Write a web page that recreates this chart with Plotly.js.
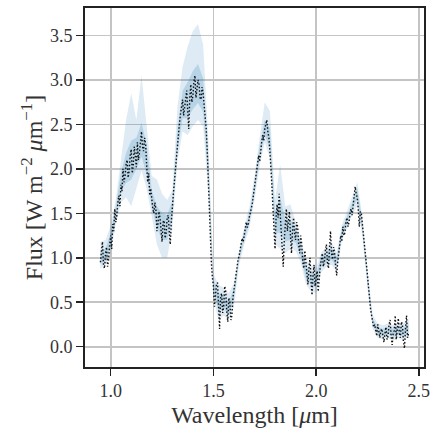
<!DOCTYPE html>
<html>
<head>
<meta charset="utf-8">
<script src="https://cdn.plot.ly/plotly-3.0.1.min.js"></script>
<style>html,body{margin:0;padding:0;background:#fff;}#chart{width:433px;height:436px;}</style>
</head>
<body>
<div id="chart"></div>
<script>
// Observed spectrum (wavelength in micron, flux)
const wavelength = [0.950,0.955,0.960,0.965,0.970,0.975,0.980,0.985,0.990,0.995,
1.000,1.005,1.010,1.015,1.020,1.025,1.030,1.035,1.040,1.045,
1.050,1.055,1.060,1.065,1.070,1.075,1.080,1.085,1.090,1.095,
1.100,1.105,1.110,1.115,1.120,1.125,1.130,1.135,1.140,1.145,
1.150,1.155,1.160,1.165,1.170,1.175,1.180,1.185,1.190,1.195,
1.200,1.205,1.210,1.215,1.220,1.225,1.230,1.235,1.240,1.245,
1.250,1.255,1.260,1.265,1.270,1.275,1.280,1.285,1.290,1.295,
1.300,1.305,1.310,1.315,1.320,1.325,1.330,1.335,1.340,1.345,
1.350,1.355,1.360,1.365,1.370,1.375,1.380,1.385,1.390,1.395,
1.400,1.405,1.410,1.415,1.420,1.425,1.430,1.435,1.440,1.445,
1.450,1.455,1.460,1.465,1.470,1.475,1.480,1.485,1.490,1.495,
1.500,1.505,1.510,1.515,1.520,1.525,1.530,1.535,1.540,1.545,
1.550,1.555,1.560,1.565,1.570,1.575,1.580,1.585,1.590,1.595,
1.600,1.605,1.610,1.615,1.620,1.625,1.630,1.635,1.640,1.645,
1.650,1.655,1.660,1.665,1.670,1.675,1.680,1.685,1.690,1.695,
1.700,1.705,1.710,1.715,1.720,1.725,1.730,1.735,1.740,1.745,
1.750,1.755,1.760,1.765,1.770,1.775,1.780,1.785,1.790,1.795,
1.800,1.805,1.810,1.815,1.820,1.825,1.830,1.835,1.840,1.845,
1.850,1.855,1.860,1.865,1.870,1.875,1.880,1.885,1.890,1.895,
1.900,1.905,1.910,1.915,1.920,1.925,1.930,1.935,1.940,1.945,
1.950,1.955,1.960,1.965,1.970,1.975,1.980,1.985,1.990,1.995,
2.000,2.005,2.010,2.015,2.020,2.025,2.030,2.035,2.040,2.045,
2.050,2.055,2.060,2.065,2.070,2.075,2.080,2.085,2.090,2.095,
2.100,2.105,2.110,2.115,2.120,2.125,2.130,2.135,2.140,2.145,
2.150,2.155,2.160,2.165,2.170,2.175,2.180,2.185,2.190,2.195,
2.200,2.205,2.210,2.215,2.220,2.225,2.230,2.235,2.240,2.245,
2.250,2.255,2.260,2.265,2.270,2.275,2.280,2.285,2.290,2.295,
2.300,2.305,2.310,2.315,2.320,2.325,2.330,2.335,2.340,2.345,
2.350,2.355,2.360,2.365,2.370,2.375,2.380,2.385,2.390,2.395,
2.400,2.405,2.410,2.415,2.420,2.425,2.430,2.435,2.440,2.445,
2.450];
const flux = [0.95,1.10,1.18,0.92,0.88,1.05,1.12,0.90,0.98,1.15,
1.25,1.10,1.38,1.30,1.55,1.40,1.48,1.62,1.70,1.58,
1.82,1.75,2.00,1.85,1.92,2.05,2.10,1.90,1.98,2.15,
2.22,1.95,2.05,2.25,2.15,2.02,2.30,2.10,2.18,2.35,
2.42,2.25,2.20,2.35,2.28,2.05,1.85,1.95,1.70,1.78,
1.62,1.55,1.50,1.62,1.55,1.30,1.38,1.52,1.45,1.25,
1.18,1.40,1.42,1.22,1.28,1.45,1.48,1.30,1.15,1.40,
1.60,1.72,1.85,2.00,2.15,2.30,2.45,2.52,2.62,2.70,
2.78,2.60,2.70,2.85,2.88,2.65,2.45,2.80,2.95,2.75,
2.82,2.98,3.05,2.80,2.88,3.00,2.95,2.80,2.78,2.92,
2.85,2.70,2.65,2.45,2.20,1.85,1.50,1.20,0.95,0.78,
0.68,0.45,0.55,0.70,0.72,0.40,0.20,0.55,0.60,0.38,
0.45,0.68,0.62,0.40,0.28,0.55,0.50,0.30,0.35,0.55,
0.65,0.75,0.82,0.90,0.98,1.02,1.10,1.15,1.22,1.18,
1.25,1.32,1.40,1.34,1.38,1.46,1.50,1.56,1.62,1.70,
1.78,1.85,1.95,2.05,2.15,2.08,2.22,2.30,2.38,2.32,
2.45,2.50,2.55,2.42,2.35,2.20,2.05,1.80,1.55,1.30,
1.10,1.45,1.60,1.45,1.72,1.50,1.25,1.05,0.90,1.20,
1.40,1.55,1.30,1.45,1.52,1.25,1.05,1.30,1.45,1.28,
1.20,1.40,1.35,1.15,1.05,1.25,1.15,0.95,0.88,1.08,
0.95,0.80,0.70,0.88,1.00,0.75,0.58,0.80,0.92,0.68,
0.75,0.85,0.62,0.78,0.90,0.98,1.05,0.90,0.95,1.08,
1.15,0.95,0.88,1.10,1.30,1.05,0.98,1.12,1.05,0.90,
0.80,0.95,1.05,1.15,1.25,1.18,1.35,1.25,1.28,1.40,
1.45,1.35,1.40,1.50,1.55,1.48,1.62,1.72,1.80,1.72,
1.68,1.55,1.35,1.52,1.50,1.38,1.28,1.15,1.05,0.92,
0.80,0.65,0.50,0.42,0.35,0.28,0.22,0.25,0.18,0.12,
0.25,0.15,0.10,0.18,0.20,0.12,0.05,0.15,0.22,0.08,
0.12,0.25,0.30,0.12,0.02,0.15,0.18,0.35,0.08,0.20,
0.32,0.15,0.10,0.28,0.25,0.05,-0.02,0.20,0.35,0.10,
0.15];

// Model uncertainty bands
const bandWave = [0.950,0.975,1.000,1.025,1.050,1.075,1.100,1.125,1.150,1.175,1.200,1.225,1.250,1.275,1.300,1.325,1.350,1.375,1.400,1.425,1.450,1.475,1.500,1.525,1.550,1.575,1.600,1.625,1.650,1.675,1.700,1.725,1.750,1.775,1.800,1.825,1.850,1.875,1.900,1.925,1.950,1.975,2.000,2.025,2.050,2.075,2.100,2.125,2.150,2.175,2.200,2.225,2.250,2.275,2.300,2.325,2.350,2.375,2.400,2.425,2.450];
const outerLow  = [0.88,0.92,1.05,1.38,1.62,1.68,1.58,1.78,1.98,1.78,1.48,1.15,1.00,1.00,1.32,2.08,2.42,2.38,2.48,2.55,2.48,1.72,0.55,0.30,0.35,0.30,0.45,0.92,1.15,1.33,1.65,2.03,2.30,2.12,1.15,1.10,1.05,1.10,1.08,0.95,0.70,0.62,0.60,0.84,0.90,0.92,0.84,1.18,1.33,1.48,1.58,1.24,0.65,0.20,0.10,0.08,0.10,0.07,0.10,0.07,0.12];
const outerHigh = [1.18,1.20,1.36,1.66,2.10,2.55,2.85,2.55,3.05,2.50,1.92,1.88,1.72,1.65,1.76,2.70,3.15,3.38,3.55,3.63,3.40,2.35,0.82,0.70,0.66,0.60,0.72,1.08,1.35,1.57,1.92,2.35,2.75,2.65,1.65,2.05,1.58,1.60,1.42,1.22,0.98,0.92,0.88,1.06,1.12,1.18,1.06,1.37,1.52,1.69,1.85,1.47,0.87,0.36,0.26,0.24,0.26,0.24,0.28,0.26,0.31];
const innerLow  = [0.93,0.96,1.12,1.45,1.74,1.84,1.88,2.00,2.14,1.94,1.57,1.34,1.20,1.20,1.44,2.20,2.57,2.57,2.67,2.74,2.64,1.88,0.62,0.40,0.43,0.36,0.53,0.96,1.20,1.39,1.72,2.11,2.38,2.22,1.28,1.28,1.18,1.20,1.17,1.02,0.77,0.70,0.67,0.90,0.94,0.98,0.90,1.24,1.38,1.54,1.66,1.30,0.70,0.24,0.14,0.11,0.14,0.11,0.14,0.11,0.16];
const innerHigh = [1.08,1.10,1.28,1.58,1.96,2.18,2.32,2.35,2.52,2.28,1.76,1.58,1.50,1.48,1.64,2.45,2.88,2.98,3.10,3.18,3.02,2.15,0.76,0.60,0.58,0.50,0.66,1.04,1.30,1.50,1.84,2.26,2.55,2.46,1.52,1.68,1.43,1.43,1.33,1.16,0.91,0.84,0.81,1.01,1.06,1.11,1.01,1.32,1.46,1.63,1.78,1.41,0.81,0.32,0.22,0.20,0.22,0.20,0.23,0.21,0.26];

const xTicks = [1.0,1.5,2.0,2.5];
const xTickText = ['1.0','1.5','2.0','2.5'];
const yTicks = [0.0,0.5,1.0,1.5,2.0,2.5,3.0,3.5];
const yTickText = ['0.0','0.5','1.0','1.5','2.0','2.5','3.0','3.5'];
const xTitle = 'Wavelength [<i>&#956;</i>m]';
const yTitle = 'Flux [W m<sup>&#8722;2</sup> <i>&#956;</i>m<sup>&#8722;1</sup>]';

const C0 = '31,119,180';
const traces = [
  {x: bandWave, y: outerLow, mode:'lines', line:{width:0}, hoverinfo:'skip', showlegend:false},
  {x: bandWave, y: outerHigh, mode:'lines', line:{width:0}, fill:'tonexty', fillcolor:'rgba('+C0+',0.15)', hoverinfo:'skip', showlegend:false},
  {x: bandWave, y: innerLow, mode:'lines', line:{width:0}, hoverinfo:'skip', showlegend:false},
  {x: bandWave, y: innerHigh, mode:'lines', line:{width:0}, fill:'tonexty', fillcolor:'rgba('+C0+',0.2)', hoverinfo:'skip', showlegend:false},
  {x: wavelength, y: flux, mode:'lines', line:{color:'#111', width:1.4, dash:'1.5px,2px'}, showlegend:false}
];

const layout = {
  width:433, height:436,
  margin:{l:85, r:9, t:8, b:69},
  paper_bgcolor:'#fff', plot_bgcolor:'#fff',
  showlegend:false,
  xaxis:{
    range:[0.875,2.525], tickvals:xTicks, ticktext:xTickText,
    showgrid:true, gridcolor:'#c4c4c4', gridwidth:1.8,
    showline:true, mirror:true, linecolor:'#222', linewidth:1.8,
    ticks:'outside', ticklen:7, tickwidth:1.5, tickcolor:'#222',
    tickfont:{family:'Liberation Serif', size:18, color:'#333'},
    zeroline:false,
    title:{text:xTitle, font:{family:'Liberation Serif', size:24, color:'#333'}, standoff:6}
  },
  yaxis:{
    range:[-0.229,3.81], tickvals:yTicks, ticktext:yTickText,
    showgrid:true, gridcolor:'#c4c4c4', gridwidth:1.8,
    showline:true, mirror:true, linecolor:'#222', linewidth:1.8,
    ticks:'outside', ticklen:7, tickwidth:1.5, tickcolor:'#222',
    tickfont:{family:'Liberation Serif', size:18, color:'#333'},
    zeroline:false,
    title:{text:yTitle, font:{family:'Liberation Serif', size:24, color:'#333'}, standoff:1}
  }
};
Plotly.newPlot('chart', traces, layout, {staticPlot:true});
</script>
</body>
</html>
